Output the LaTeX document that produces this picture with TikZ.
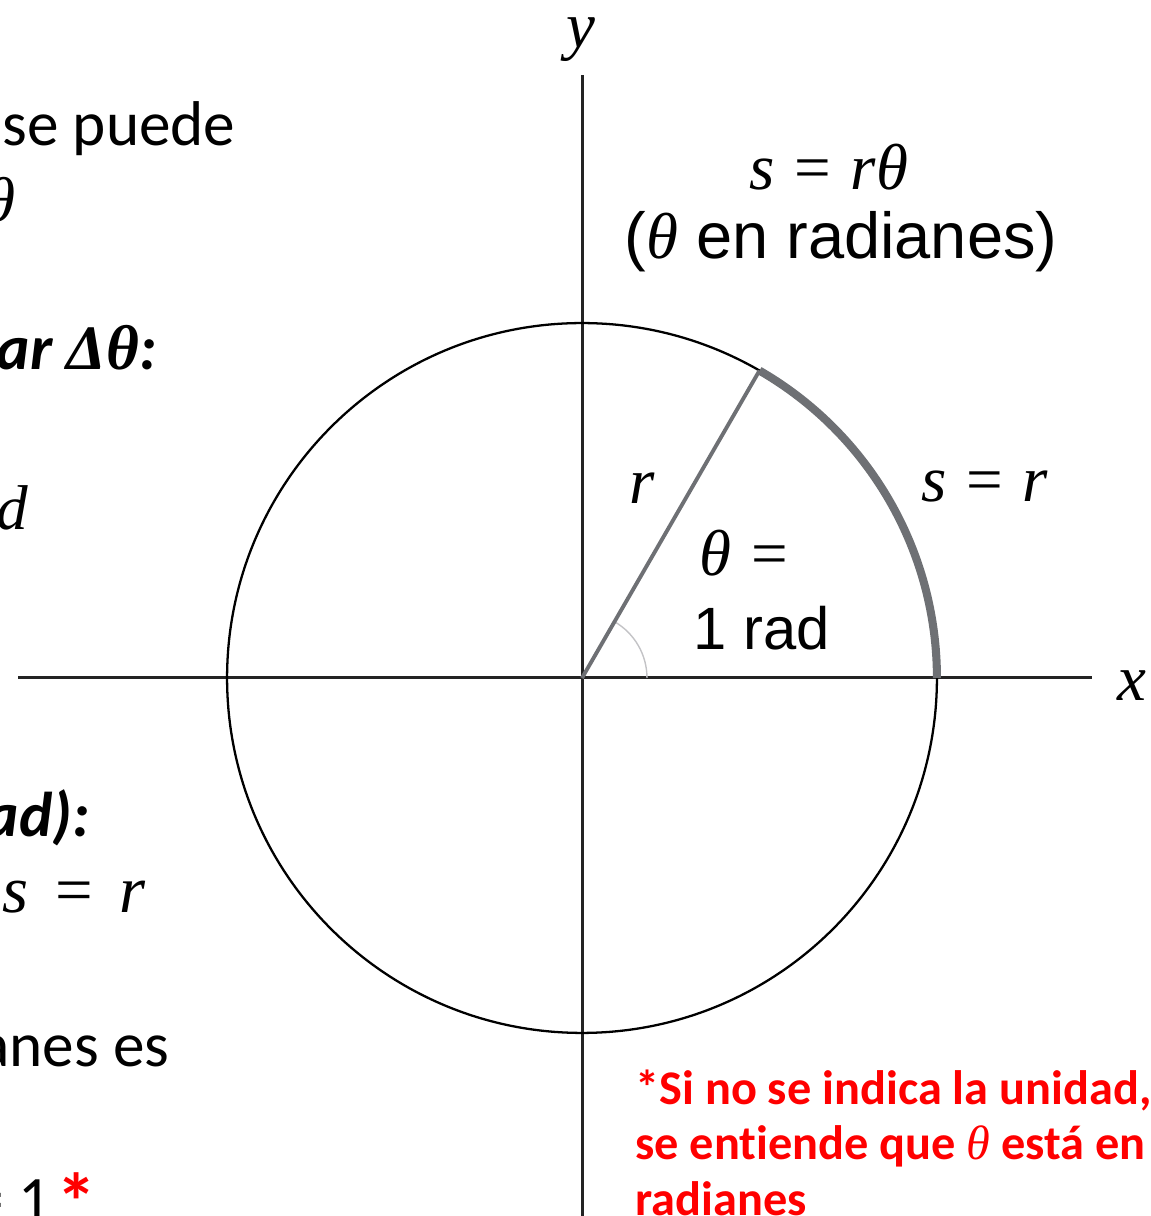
\documentclass[tikz,border=0pt]{standalone}
\usepackage{fontspec}
\usetikzlibrary{calc}
\setmainfont{Carlito}[Ligatures=NoCommon]
\newfontfamily\helv{Liberation Sans}
\newfontfamily\tnr{Liberation Serif}
\newcommand{\mi}[1]{{\tnr\itshape #1}}
\newcommand{\meq}{{\tnr\upshape\hspace{0.3em}=\hspace{0.3em}}}
\definecolor{axisc}{RGB}{35,35,35}
\definecolor{arcgray}{RGB}{110,112,116}
\definecolor{anggray}{RGB}{195,195,198}
\definecolor{redtxt}{RGB}{255,0,0}
\tikzset{
  axisline/.style={draw=axisc, line width=1.7pt},
  circline/.style={draw=black, line width=1.3pt},
  radline/.style={draw=arcgray, line width=2.2pt},
  arcline/.style={draw=arcgray, line width=4.6pt},
  angline/.style={draw=anggray, line width=0.8pt},
  mlab/.style={inner sep=0pt, font=\fontsize{37}{44}\selectfont},
  slab/.style={inner sep=0pt, font=\helv\fontsize{34}{40}\selectfont},
  ltxt/.style={inner sep=0pt, font=\fontsize{36}{42}\selectfont},
  rtxt/.style={inner sep=0pt, anchor=base west, text=redtxt, font=\bfseries\fontsize{27.5}{32}\selectfont},
}
\begin{document}
\begin{tikzpicture}[x=0.02cm,y=0.02cm]
\clip (0,0) rectangle (1151,1216);
\coordinate (O) at (582,538);
\coordinate (ytop) at (582,1141);
\coordinate (ybot) at (582,-10);
\coordinate (xl) at (18,538);
\coordinate (xr) at (1092,538);
\coordinate (P) at ($(O)+(60:7.1cm)$);
% axes
\draw[axisline] (xl) -- (xr);
\draw[axisline] (ybot) -- (ytop);
% circle
\draw[circline] (O) circle [radius=7.1cm];
% angle arc
\draw[angline] ($(O)+(1.3cm,0)$) arc [start angle=0, end angle=60, radius=1.3cm];
% radius
\draw[radline] (O) -- (P);
% thick arc s
\draw[arcline] ($(O)+(7.1cm,0)$) arc [start angle=0, end angle=60, radius=7.1cm];
% labels in figure
\node[mlab, anchor=base] (ylab) at (581,1168) {\mi{y}};
\node[mlab, anchor=base] (xlab) at (1132,515) {\mi{x}};
\node[mlab] (eq) at (829,1049) {\mi{s}\meq\mi{rθ}};
\node[slab, font=\helv\fontsize{37}{44}\selectfont] (enrad) at (841,974) {(\mi{θ} en radianes)};
\node[mlab] (rlab) at (642,728) {\mi{r}};
\node[mlab] (srlab) at (985,729) {\mi{s}\meq\mi{r}};
\node[mlab] (thlab) at (744,663) {\mi{θ}\meq};
\node[slab] (onerad) at (762,588) {1 rad};
% left, cut-off text
\node[ltxt, anchor=base west] (t1) at (2,1070) {se puede};
\node[ltxt, anchor=base east] (t2) at (16,994) {\mi{θ}};
\node[ltxt, anchor=base east] (t3) at (157,846) {\bfseries\itshape ar {\tnr Δθ}:};
\node[ltxt, anchor=base east] (t4) at (28,686) {\mi{d}};
\node[ltxt, anchor=base east] (t5) at (90,379) {\bfseries\itshape ad):};
\node[ltxt, anchor=base east] (t6) at (146,303) {\fontsize{38}{44}\selectfont\mi{s}{\tnr\upshape\hspace{0.4em}=\hspace{0.4em}}\mi{r}};
\node[ltxt, anchor=base east] (t7) at (170,149) {anes es};
\node[ltxt, anchor=base east] (t8) at (97,-5) {= 1\hspace{0.1em}\raisebox{-0.2cm}{\color{redtxt}\bfseries\fontsize{46}{50}\selectfont *}};
% red note
\node[rtxt] (red1) at (635,111) {*Si no se indica la unidad,};
\node[rtxt] (red2) at (635,56) {se entiende que {\tnr\mdseries\itshape θ} está en};
\node[rtxt] (red3) at (635,1) {radianes};
\end{tikzpicture}
\end{document}
